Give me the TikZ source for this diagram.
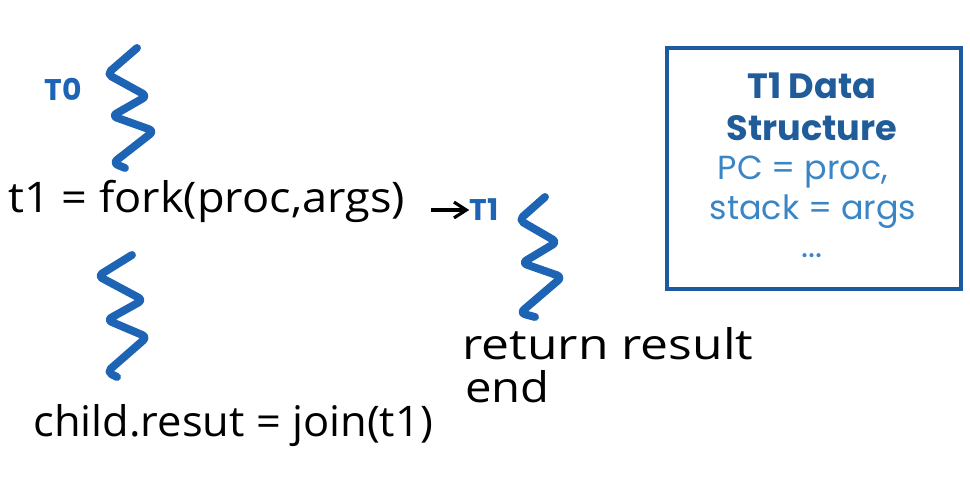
\documentclass[tikz,border=0pt]{standalone}
\usepackage{fontspec}
\setmainfont{Poppins}
\newfontfamily\handfont{Open Sans}
\usepackage{tikz}
\usetikzlibrary{arrows.meta}
\definecolor{threadc}{HTML}{1E64B4}
\definecolor{boxc}{HTML}{1B5A9E}
\definecolor{titlec}{HTML}{1F5C99}
\definecolor{fieldc}{HTML}{3A85C5}
\tikzset{
  thread/.style={draw=threadc, line width=4.5pt, line cap=round, line join=round, rounded corners=3pt},
  hand/.style={font=\handfont\fontsize{24}{28}\selectfont, text=black, inner sep=0pt, anchor=base west, transform shape},
  tlabel/.style={font=\bfseries\fontsize{17}{20}\selectfont, text=threadc, inner sep=0pt},
  dstitle/.style={font=\bfseries\fontsize{20}{24}\selectfont, text=titlec, inner sep=0pt},
  dsfield/.style={font=\fontsize{19}{23}\selectfont, text=fieldc, inner sep=0pt},
}

\begin{document}
\begin{tikzpicture}[x=0.02cm, y=-0.02cm]
\useasboundingbox (0,0) rectangle (970,499);
\draw[thread] (137,48) -- (107,74) -- (147,96) -- (112,116) -- (154,131) -- (113,163) -- (125,168);
\draw[thread] (132,255) -- (98,276) -- (143,300) -- (107,320) -- (147,337) -- (107,372) -- (117,377);
\draw[thread] (545,197) -- (519,220) -- (557,242) -- (522,263) -- (562,277) -- (520,313) -- (535,317);
\node[tlabel] (t0lbl) at (63,89) {T0};
\node[hand, xscale=1.07] (fork) at (8,213) {t1 = fork(proc,args)};
\coordinate (arrtail) at (431,210);
\node[tlabel] (t1lbl) at (484,210) {T1};
\draw[-{Straight Barb[length=7pt, width=9pt]}, line width=1.8pt] (arrtail) -- (t1lbl.west);
\node[hand, xscale=1.18] (ret) at (462,360) {return result};
\node[hand, xscale=1.12] (endl) at (465,403) {end};
\node[hand, xscale=1.03] (join) at (33,437) {child.resut = join(t1)};
\draw[boxc, line width=2.8pt] (667,48) rectangle (961,289);
\node[dstitle] (dstop) at (812,86) {T1 Data};
\node[dstitle] (dsname) at (812,128) {Structure};
\node[dsfield] (dspc) at (803,172) {PC = proc,};
\node[dsfield] (dsstack) at (813,212) {stack = args};
\node[dsfield] (dsmore) at (812,256) {...};
\end{tikzpicture}
\end{document}
